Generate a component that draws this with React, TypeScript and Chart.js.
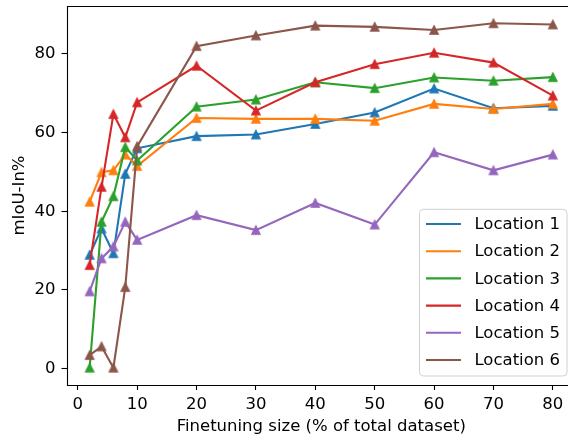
import React, { useEffect, useRef } from "react";
import { Chart, registerables } from "chart.js";

Chart.register(...registerables);

const xValues = [2, 4, 6, 8, 10, 20, 30, 40, 50, 60, 70, 80];
const location1 = [28.9, 35.6, 29.3, 49.5, 56.0, 59.1, 59.5, 62.2, 65.1, 71.2, 66.2, 66.8];
const location2 = [42.4, 49.9, 50.4, 54.4, 51.5, 63.7, 63.5, 63.5, 63.0, 67.3, 66.0, 67.3];
const location3 = [0.2, 37.3, 43.8, 56.3, 52.9, 66.6, 68.4, 72.8, 71.3, 74.0, 73.2, 74.1];
const location4 = [26.3, 46.2, 64.7, 58.8, 67.7, 77.0, 65.6, 72.8, 77.4, 80.3, 77.8, 69.4];
const location5 = [19.6, 28.0, 31.0, 37.3, 32.7, 39.0, 35.2, 42.1, 36.6, 55.0, 50.4, 54.4];
const location6 = [3.4, 5.6, 0.2, 20.7, 56.5, 82.0, 84.7, 87.2, 86.9, 86.1, 87.8, 87.5];

const seriesNames = ["Location 1", "Location 2", "Location 3", "Location 4", "Location 5", "Location 6"];
const seriesValues = [location1, location2, location3, location4, location5, location6];
const seriesColors = ["#1f77b4", "#ff7f0e", "#2ca02c", "#d62728", "#9467bd", "#8c564b"];

const xTicks = [0, 10, 20, 30, 40, 50, 60, 70, 80];
const yTicks = [0, 20, 40, 60, 80];

const xTitle = "Finetuning size (% of total dataset)";
const yTitle = "mIoU-In%";

const FONT = "'DejaVu Sans', sans-serif";
const FONT_SIZE = 16.5;

function makeTriangle(color: string): HTMLCanvasElement {
  const c = document.createElement("canvas");
  c.width = 14;
  c.height = 14;
  const g = c.getContext("2d")!;
  const h = 4.15;
  const cx = 7, cy = 7;
  g.beginPath();
  g.moveTo(cx, cy - h);
  g.lineTo(cx - h, cy + h);
  g.lineTo(cx + h, cy + h);
  g.closePath();
  g.fillStyle = color;
  g.fill();
  g.strokeStyle = color;
  g.lineWidth = 1.3;
  g.lineJoin = "miter";
  g.stroke();
  return c;
}

const frameAndLegend = {
  id: "frameAndLegend",
  afterDraw(chart: any) {
    const ctx = chart.ctx;
    const a = chart.chartArea;
    ctx.save();
    const L = Math.round(a.left) + 0.5;
    const T = Math.round(a.top) + 0.5;
    const B = Math.round(a.bottom) + 0.5;
    const R = Math.round(a.right) + 0.5;
    ctx.strokeStyle = "#000";
    ctx.lineWidth = 1.1;
    ctx.beginPath();
    ctx.moveTo(R, T);
    ctx.lineTo(L, T);
    ctx.lineTo(L, B);
    ctx.lineTo(R, B);
    ctx.stroke();

    ctx.font = `${FONT_SIZE}px ${FONT}`;
    let textW = 0;
    chart.data.datasets.forEach((d: any) => {
      textW = Math.max(textW, ctx.measureText(d.label).width);
    });
    const padL = 6.5, handle = 35, gap = 13.5, padR = 7;
    const boxW = padL + handle + gap + textW + padR;
    const rowH = 27.2;
    const n = chart.data.datasets.length;
    const topPad = 14.7, botPad = 16;
    const boxH = topPad + (n - 1) * rowH + botPad;
    const right = a.right - 9;
    const bottom = a.bottom - 9;
    const left = right - boxW;
    const top = bottom - boxH;
    const r = 4;
    ctx.beginPath();
    ctx.moveTo(left + r, top);
    ctx.lineTo(right - r, top);
    ctx.arcTo(right, top, right, top + r, r);
    ctx.lineTo(right, bottom - r);
    ctx.arcTo(right, bottom, right - r, bottom, r);
    ctx.lineTo(left + r, bottom);
    ctx.arcTo(left, bottom, left, bottom - r, r);
    ctx.lineTo(left, top + r);
    ctx.arcTo(left, top, left + r, top, r);
    ctx.closePath();
    ctx.fillStyle = "rgba(255,255,255,0.8)";
    ctx.fill();
    ctx.strokeStyle = "rgba(204,204,204,0.9)";
    ctx.lineWidth = 1;
    ctx.stroke();

    chart.data.datasets.forEach((d: any, i: number) => {
      const cy = top + topPad + i * rowH;
      ctx.beginPath();
      ctx.strokeStyle = d.borderColor;
      ctx.lineWidth = 2.1;
      ctx.lineCap = "butt";
      ctx.moveTo(left + padL, cy);
      ctx.lineTo(left + padL + handle, cy);
      ctx.stroke();
      ctx.fillStyle = "#000";
      ctx.textBaseline = "middle";
      ctx.textAlign = "left";
      ctx.fillText(d.label, left + padL + handle + gap, cy + 1);
    });
    ctx.restore();
  },
};

function clearPadding(scale: any) {
  scale.paddingTop = 0;
  scale.paddingBottom = 0;
  scale.paddingLeft = 0;
  scale.paddingRight = 0;
}

export default function App() {
  const ref = useRef<HTMLCanvasElement | null>(null);

  useEffect(() => {
    const canvas = ref.current;
    if (!canvas) return;
    const chart = new Chart(canvas, {
      type: "line",
      data: {
        datasets: seriesNames.map((name, i) => ({
          label: name,
          data: xValues.map((x, j) => ({ x, y: seriesValues[i][j] })),
          borderColor: seriesColors[i],
          backgroundColor: seriesColors[i],
          pointBackgroundColor: seriesColors[i],
          pointBorderColor: seriesColors[i],
          borderWidth: 2.1,
          pointStyle: makeTriangle(seriesColors[i]),
          pointRadius: 5,
          pointBorderWidth: 0,
          tension: 0,
          fill: false,
          order: seriesNames.length - 1 - i,
        })),
      },
      plugins: [frameAndLegend],
      options: {
        responsive: false,
        animation: false,
        devicePixelRatio: 1,
        layout: { padding: { left: 0, right: 14, top: 6, bottom: 0 } },
        plugins: {
          legend: { display: false },
          tooltip: { enabled: false },
        },
        scales: {
          x: {
            type: "linear",
            min: -1.9,
            max: 83.9,
            afterBuildTicks: (scale: any) => {
              scale.ticks = xTicks.map((v) => ({ value: v }));
            },
            afterFit: (scale: any) => {
              scale.height = 53;
              clearPadding(scale);
            },
            grid: {
              display: true,
              drawOnChartArea: false,
              drawTicks: true,
              tickLength: 5,
              tickColor: "#000",
              tickWidth: 1.1,
            },
            border: { display: false },
            ticks: {
              color: "#000",
              padding: 5,
              maxRotation: 0,
              autoSkip: false,
              font: { family: FONT, size: FONT_SIZE },
            },
            title: {
              display: true,
              text: xTitle,
              color: "#000",
              font: { family: FONT, size: FONT_SIZE },
              padding: { top: 0, bottom: 1 },
            },
          },
          y: {
            type: "linear",
            min: -4.2,
            max: 92.2,
            afterBuildTicks: (scale: any) => {
              scale.ticks = yTicks.map((v) => ({ value: v }));
            },
            afterFit: (scale: any) => {
              scale.width = 66.5;
              clearPadding(scale);
            },
            grid: {
              display: true,
              drawOnChartArea: false,
              drawTicks: true,
              tickLength: 5,
              tickColor: "#000",
              tickWidth: 1.1,
            },
            border: { display: false },
            ticks: {
              color: "#000",
              padding: 6,
              autoSkip: false,
              font: { family: FONT, size: FONT_SIZE },
            },
            title: {
              display: true,
              text: yTitle,
              color: "#000",
              font: { family: FONT, size: FONT_SIZE },
              padding: { top: 10, bottom: 0 },
            },
          },
        },
      },
    });
    return () => chart.destroy();
  }, []);

  return (
    <div style={{ position: "fixed", left: 0, top: 0, width: 568, height: 438, overflow: "hidden", background: "#fff" }}>
      <canvas ref={ref} width={590} height={438} style={{ display: "block", width: 590, height: 438 }} />
    </div>
  );
}
